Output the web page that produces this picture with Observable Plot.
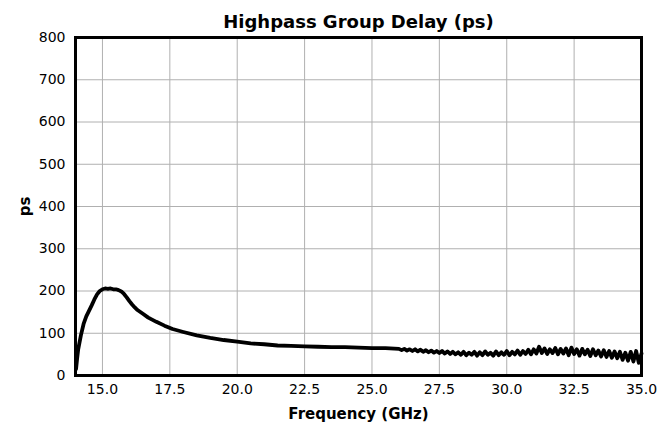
<!DOCTYPE html>
<html><head><meta charset="utf-8">
<script src="https://cdn.jsdelivr.net/npm/d3@7"></script>
<script src="https://cdn.jsdelivr.net/npm/@observablehq/plot@0.6"></script>
<style>body{margin:0;background:#fff;} #chart svg{font-family:"DejaVu Sans";}</style>
</head><body><div id="chart"></div>
<script>
const title = "Highpass Group Delay (ps)";
const xLabel = "Frequency (GHz)";
const yLabel = "ps";
const xTicks = [15, 17.5, 20, 22.5, 25, 27.5, 30, 32.5, 35];
const yTicks = [0, 100, 200, 300, 400, 500, 600, 700, 800];

const freq = [14.02,14.06,14.1,14.2,14.3,14.4,14.5,14.6,14.7,14.8,14.9,15.0,15.1,15.2,15.3,15.4,15.5,15.6,15.7,15.8,15.9,16.0,16.1,16.2,16.3,16.5,16.7,17.0,17.3,17.6,18.0,18.5,19.0,19.5,20.0,20.5,21.0,21.5,22.0,22.5,23.0,23.5,24.0,24.5,25.0,25.5,
26.0,26.1,26.2,26.3,26.4,26.5,26.6,26.7,26.8,26.9,27.0,27.1,27.2,27.3,27.4,27.5,27.6,27.7,27.8,27.9,28.0,28.1,28.2,28.3,28.4,28.5,28.6,28.7,28.8,28.9,29.0,29.1,29.2,29.3,29.4,29.5,29.6,29.7,29.8,29.9,30.0,30.1,30.2,30.3,30.4,30.5,30.6,30.7,30.8,30.9,31.0,31.1,31.2,31.3,31.4,31.5,31.6,31.7,31.8,31.9,32.0,32.1,32.2,32.3,32.4,32.5,32.6,32.7,32.8,32.9,33.0,33.1,33.2,33.3,33.4,33.5,33.6,33.7,33.8,33.9,34.0,34.1,34.2,34.3,34.4,34.5,34.6,34.7,34.8,34.9,35.0];
const delay = [15,40,62,95,122,140,153,166,180,192,200,204,206,205,206,204,204,202,199,193,185,176,168,161,155,146,137,127,118,110,103,95,89,84,80,76,74,71,70,69,68,67,67,66,65,65,
63,60,63,59,62,58,62,57,61,56,60,55,59,54,58,53,58,52,57,51,56,50,55,49,56,48,54,49,56,47,55,48,57,49,54,47,57,48,55,49,58,48,56,50,59,49,58,51,61,50,62,52,68,53,64,51,62,53,65,50,63,52,64,48,66,51,62,47,63,50,61,46,62,48,59,45,60,44,58,42,57,41,56,37,54,35,56,33,58,30,52];

const data = freq.map((f, i) => ({f, d: delay[i]}));

const chart = Plot.plot({
  width: 665, height: 422,
  marginLeft: 75, marginRight: 24, marginTop: 37, marginBottom: 47,
  style: {fontFamily: "DejaVu Sans", fontSize: "14px", color: "#000", background: "#fff"},
  x: {domain: [14, 35], ticks: xTicks, tickFormat: ".1f", tickSize: 0, tickPadding: 9,
      label: xLabel, labelAnchor: "center", labelOffset: 43, labelArrow: "none"},
  y: {domain: [0, 800], ticks: yTicks, tickSize: 0, tickPadding: 10,
      label: yLabel, labelAnchor: "center", labelOffset: 56, labelArrow: "none"},
  marks: [
    Plot.gridX(xTicks, {stroke: "#b0b0b0", strokeOpacity: 1, strokeWidth: 1}),
    Plot.gridY(yTicks, {stroke: "#b0b0b0", strokeOpacity: 1, strokeWidth: 1}),
    Plot.line(data, {x: "f", y: "d", stroke: "#000", strokeWidth: 3.8, strokeLinejoin: "round", strokeLinecap: "round"}),
    Plot.frame({stroke: "#000", strokeWidth: 3}),
    Plot.text([title], {frameAnchor: "top", dy: -22, text: d => d, fontWeight: "bold", fontSize: 18, fill: "#000"})
  ]
});
d3.select(chart).selectAll('g[aria-label="x-axis label"], g[aria-label="y-axis label"]').attr("font-weight", "bold").attr("font-size", 15);
document.getElementById("chart").append(chart);
</script></body></html>
